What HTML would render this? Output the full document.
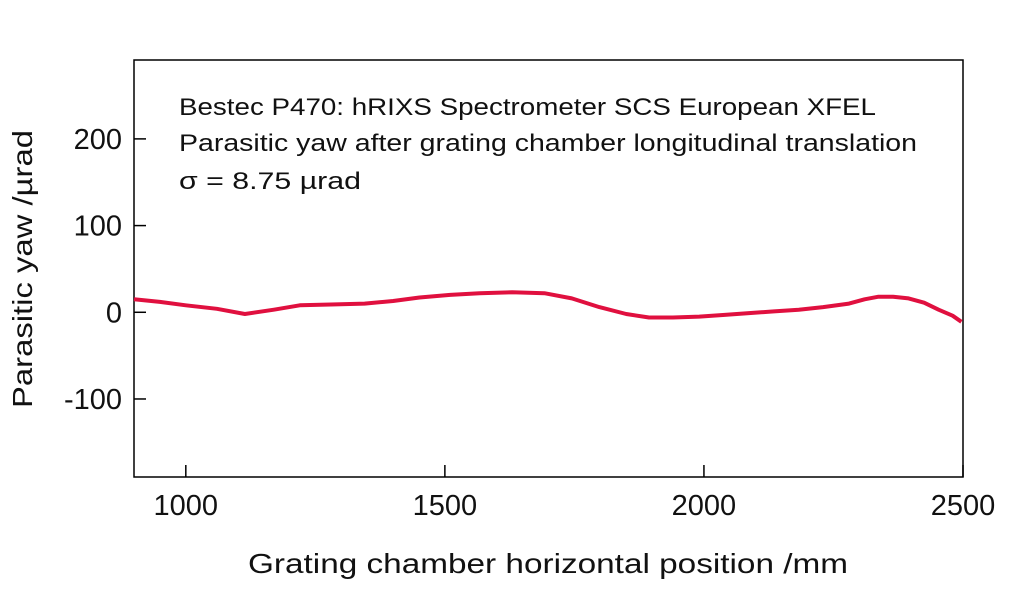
<!DOCTYPE html>
<html><head><meta charset="utf-8"><style>
html,body{margin:0;padding:0;background:#fff;}
svg{display:block;font-family:"Liberation Sans",sans-serif;}
</style></head><body>
<svg id="chart" width="1024" height="589" viewBox="0 0 1024 589">
<rect x="134" y="60" width="829" height="417" fill="none" stroke="#000" stroke-width="1.5"/>
<g id="xt"></g>
<g id="yt"></g>
<path id="line" fill="none" stroke="#e0103f" stroke-width="4" stroke-linejoin="round"/>
<text x="179" y="115" font-size="24" textLength="697" lengthAdjust="spacingAndGlyphs" fill="#111">Bestec P470: hRIXS Spectrometer SCS European XFEL</text>
<text x="179" y="151" font-size="24" textLength="738" lengthAdjust="spacingAndGlyphs" fill="#111">Parasitic yaw after grating chamber longitudinal translation</text>
<text x="179" y="189" font-size="24" textLength="182" lengthAdjust="spacingAndGlyphs" fill="#111">σ = 8.75 µrad</text>
<text x="548" y="573" font-size="28" text-anchor="middle" textLength="600" lengthAdjust="spacingAndGlyphs" fill="#111">Grating chamber horizontal position /mm</text>
<text transform="translate(32,269) rotate(-90)" font-size="28" text-anchor="middle" textLength="278" lengthAdjust="spacingAndGlyphs" fill="#111">Parasitic yaw /µrad</text>
</svg>
<script>
const xTicks=[1000,1500,2000,2500];
const yTicks=[200,100,0,-100];
const xs=[900,950,1000,1060,1114,1170,1220,1280,1345,1400,1451,1510,1567,1630,1692,1745,1798,1850,1894,1940,1991,2040,2087,2135,2183,2230,2280,2310,2337,2365,2395,2425,2453,2480,2497];
const ys=[15,12,8,4,-2,3,8,9,10,13,17,20,22,23,22,16,6,-2,-6,-6,-5,-3,-1,1,3,6,10,15,18,18,16,11,3,-4,-11];
const X0=134,X1=963,Y0=477,Y1=60,xmin=900,xmax=2500,ymin=-190,ymax=291;
const sx=v=>X0+(v-xmin)/(xmax-xmin)*(X1-X0);
const sy=v=>Y0-(v-ymin)/(ymax-ymin)*(Y0-Y1);
const NS="http://www.w3.org/2000/svg";
const xt=document.getElementById('xt'),yt=document.getElementById('yt');
xTicks.forEach(t=>{
 const l=document.createElementNS(NS,'line');
 
 
 l.setAttribute('x1',sx(t));l.setAttribute('x2',sx(t));l.setAttribute('y1',Y0);l.setAttribute('y2',Y0-12);l.setAttribute('stroke','#000');l.setAttribute('stroke-width','1.5');
 xt.appendChild(l);
 const tx=document.createElementNS(NS,'text');
 
 
 tx.setAttribute('x',sx(t));tx.setAttribute('y',515);tx.setAttribute('font-size','29');tx.setAttribute('text-anchor','middle');tx.setAttribute('fill','#111');
 tx.textContent=t;xt.appendChild(tx);
});
yTicks.forEach(t=>{
 const l=document.createElementNS(NS,'line');
 
 
 l.setAttribute('x1',X0);l.setAttribute('x2',X0+12);l.setAttribute('y1',sy(t));l.setAttribute('y2',sy(t));l.setAttribute('stroke','#000');l.setAttribute('stroke-width','1.5');
 yt.appendChild(l);
 const tx=document.createElementNS(NS,'text');
 
 
 tx.setAttribute('x',122);tx.setAttribute('y',sy(t)+10);tx.setAttribute('font-size','29');tx.setAttribute('text-anchor','end');tx.setAttribute('fill','#111');
 tx.textContent=t;yt.appendChild(tx);
});
let d='';
xs.forEach((x,i)=>{d+=(i?'L':'M')+sx(x).toFixed(1)+' '+sy(ys[i]).toFixed(1);});
document.getElementById('line').setAttribute('d',d);
</script>
</body></html>
